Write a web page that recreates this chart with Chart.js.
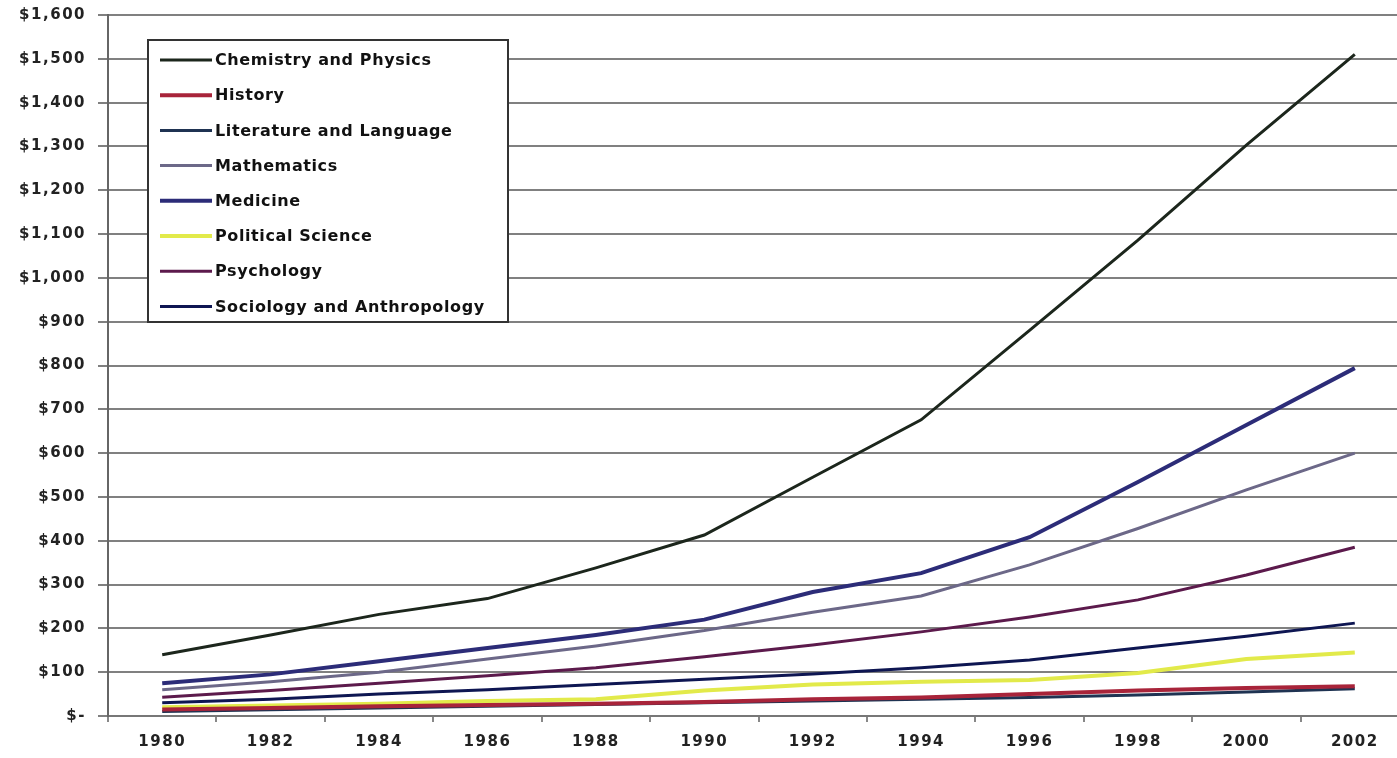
<!DOCTYPE html>
<html>
<head>
<meta charset="utf-8">
<script src="https://cdn.jsdelivr.net/npm/chart.js@4/dist/chart.umd.min.js"></script>
<style>
  html, body { margin: 0; padding: 0; background: #fff; overflow: hidden; }
  #wrap { position: relative; width: 1411px; height: 758px; }
</style>
</head>
<body>
<div id="wrap"><canvas id="c"></canvas></div>
<script>
const years = ['1980','1982','1984','1986','1988','1990','1992','1994','1996','1998','2000','2002'];

const chemistry  = [140, 185, 232, 268, 338, 413, 545, 676, 880, 1086, 1303, 1510];
const history    = [15, 18, 22, 25, 28, 32, 38, 42, 50, 58, 64, 68];
const literature = [10, 14, 18, 22, 26, 30, 34, 38, 42, 48, 55, 62];
const mathematics= [60, 78, 100, 130, 160, 195, 237, 274, 345, 428, 516, 600];
const medicine   = [75, 95, 125, 155, 185, 220, 283, 326, 408, 534, 664, 794];
const polisci    = [20, 24, 28, 34, 38, 58, 72, 78, 82, 98, 130, 145];
const psychology = [43, 58, 75, 92, 110, 135, 162, 192, 226, 265, 322, 385];
const sociology  = [30, 38, 50, 60, 72, 84, 96, 110, 128, 155, 182, 212];

const seriesNames = ['Chemistry and Physics','History','Literature and Language','Mathematics',
                     'Medicine','Political Science','Psychology','Sociology and Anthropology'];
const seriesData = [chemistry, history, literature, mathematics, medicine, polisci, psychology, sociology];
const seriesColors = ['#1c261c','#a8243a','#1f3352','#6c6888','#2c2c78','#e2ea4a','#5c1a4c','#0e1652'];
const seriesWidths = [3, 4, 3, 3, 4, 4, 3, 3];

const FONT = "'DejaVu Sans', sans-serif";

const spacingPlugin = {
  id: 'spacing',
  beforeDraw(chart) { chart.ctx.letterSpacing = '1.5px'; }
};

const legendPlugin = {
  id: 'boxLegend',
  afterDatasetsDraw(chart) {
    const ctx = chart.ctx;
    const x0 = 148, y0 = 40, w = 360, h = 282;
    ctx.save();
    ctx.fillStyle = '#fff';
    ctx.fillRect(x0, y0, w, h);
    ctx.strokeStyle = '#333';
    ctx.lineWidth = 2;
    ctx.strokeRect(x0, y0, w, h);
    ctx.font = 'bold 16px ' + FONT;
    ctx.letterSpacing = '0.6px';
    ctx.textBaseline = 'middle';
    ctx.textAlign = 'left';
    chart.data.datasets.forEach((ds, i) => {
      const y = 60 + i * 35.2;
      ctx.strokeStyle = ds.borderColor;
      ctx.lineWidth = ds.borderWidth;
      ctx.beginPath();
      ctx.moveTo(160, y);
      ctx.lineTo(212, y);
      ctx.stroke();
      ctx.fillStyle = '#111';
      ctx.fillText(ds.label, 215, y + 1);
    });
    ctx.restore();
  }
};

new Chart(document.getElementById('c'), {
  type: 'line',
  data: {
    labels: years,
    datasets: seriesNames.map((name, i) => ({
      label: name,
      data: seriesData[i],
      borderColor: seriesColors[i],
      backgroundColor: seriesColors[i],
      borderWidth: seriesWidths[i],
      pointRadius: 0,
      tension: 0,
      fill: false
    }))
  },
  options: {
    responsive: true,
    maintainAspectRatio: false,
    animation: false,
    layout: { padding: { top: 15, right: 2, left: 0, bottom: 0 } },
    plugins: { legend: { display: false }, tooltip: { enabled: false } },
    scales: {
      x: {
        type: 'category',
        offset: true,
        grid: { offset: true, drawOnChartArea: false, drawTicks: true, tickLength: 6, color: '#888', lineWidth: 2 },
        border: { display: true, color: '#777', width: 2 },
        ticks: { font: { family: FONT, size: 15, weight: 'bold' }, color: '#222', padding: 11, maxRotation: 0, autoSkip: false },
        afterFit(scale) { scale.height = 42; }
      },
      y: {
        min: 0, max: 1600,
        grid: { color: '#808080', lineWidth: 2, tickLength: 10 },
        border: { display: true, color: '#666', width: 2 },
        ticks: {
          stepSize: 100,
          font: { family: FONT, size: 15, weight: 'bold' },
          color: '#222',
          padding: 12,
          callback: v => v === 0 ? '$-' : '$' + v.toLocaleString('en-US')
        },
        afterFit(scale) { scale.width = 108; scale.paddingTop = 0; scale.paddingBottom = 0; }
      }
    }
  },
  plugins: [spacingPlugin, legendPlugin]
});
</script>
</body>
</html>
